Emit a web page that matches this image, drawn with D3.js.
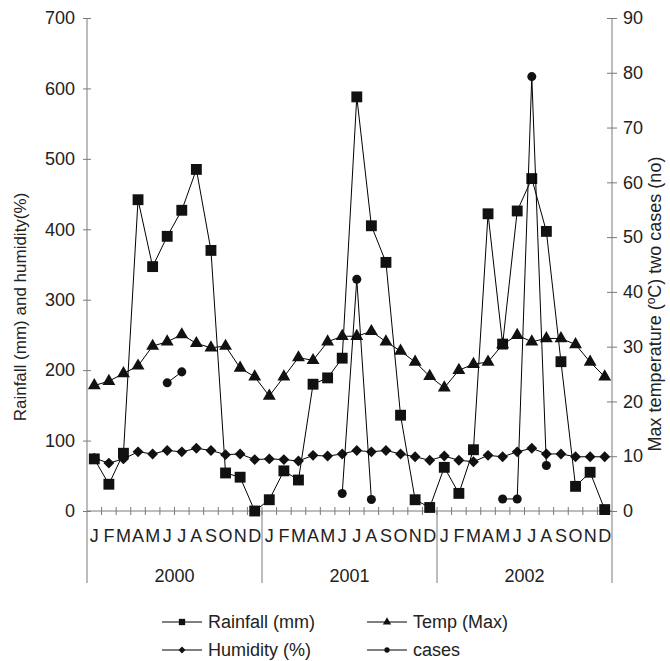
<!DOCTYPE html>
<html>
<head>
<meta charset="utf-8">
<script src="https://cdn.jsdelivr.net/npm/d3@7"></script>
<style>
    body { margin: 0; background: #fff; }
    svg { display: block; font-family: "Liberation Sans", Arial, sans-serif; }
    .axis path, .axis line { stroke: #7a7a7a; }
    .axis text { fill: #222; font-size: 18px; }
</style>
</head>
<body>
<div id="chart"></div>
<script>
// Data
const years = ['2000', '2001', '2002']
const monthLabels = ['J', 'F', 'M', 'A', 'M', 'J', 'J', 'A', 'S', 'O', 'N', 'D']
const rainfall = [
    74, 38, 82, 442, 347, 390, 427, 485, 370, 54, 48, 0,
    16, 57, 44, 180, 189, 217, 588, 405, 353, 136, 16, 5,
    62, 25, 87, 422, 237, 426, 472, 397, 212, 35, 55, 2
]
const humidity = [
    75, 68, 74, 84, 81, 86, 84, 89, 86, 80, 81, 73,
    74, 73, 71, 79, 78, 81, 86, 84, 86, 81, 77, 72,
    78, 72, 70, 79, 77, 84, 89, 81, 81, 77, 77, 77
]
const tempMax = [
    22.9, 23.7, 25.1, 26.5, 30.1, 30.9, 32.2, 30.6, 29.8, 30.1, 26.1, 24.5,
    21.0, 24.5, 28.0, 27.5, 30.9, 31.9, 31.9, 32.8, 30.9, 29.2, 27.2, 24.6,
    22.5, 25.7, 26.8, 27.2, 30.4, 32.1, 30.9, 31.5, 31.5, 30.4, 27.2, 24.5
]
const cases = [
    null, null, null, null, null, 23.4, 25.4, null, null, null, null, null,
    null, null, null, null, null, 3.2, 42.3, 2.1, null, null, null, null,
    null, null, null, null, 2.2, 2.2, 79.3, 8.3, null, null, null, null
]
const leftTicks = [0, 100, 200, 300, 400, 500, 600, 700]
const rightTicks = [0, 10, 20, 30, 40, 50, 60, 70, 80, 90]

const months = d3.range(years.length * 12)

// SVG
const width = 670
const height = 661
const margin = { top: 18, right: 58, bottom: 150, left: 87 }
const svg = d3.select('#chart').append('svg')
    .attr('width', width)
    .attr('height', height)

const chartWidth = width - margin.left - margin.right
const chartHeight = height - margin.top - margin.bottom
const g = svg.append('g').attr('transform', `translate(${margin.left},${margin.top})`)

// Scales
const x = d3.scaleBand().domain(months).range([0, chartWidth]).padding(0)
const yLeft = d3.scaleLinear().domain([0, 700]).range([chartHeight, 0])
const yRight = d3.scaleLinear().domain([0, 90]).range([chartHeight, 0])
const cx = i => x(i) + x.bandwidth() / 2

// Axes
const leftAxis = g.append('g').attr('class', 'axis')
    .call(d3.axisLeft(yLeft).tickValues(leftTicks).tickSize(4).tickPadding(8))
leftAxis.select('.domain').attr('d', `M0,0V${chartHeight + 72}`)
leftAxis.selectAll('.tick line').attr('x1', 4)

const rightAxis = g.append('g').attr('class', 'axis')
    .attr('transform', `translate(${chartWidth},0)`)
    .call(d3.axisRight(yRight).tickValues(rightTicks).tickSize(5).tickPadding(6))
rightAxis.select('.domain').attr('d', `M0,0V${chartHeight + 72}`)
rightAxis.selectAll('.tick line').attr('x1', -5)

const bottom = g.append('g').attr('class', 'axis').attr('transform', `translate(0,${chartHeight})`)
bottom.append('line').attr('x1', 0).attr('x2', chartWidth).attr('stroke', '#7a7a7a')
bottom.selectAll('line.mtick')
    .data(months.slice(1))
    .join('line')
    .attr('class', 'mtick')
    .attr('x1', d => x(d)).attr('x2', d => x(d))
    .attr('y1', -4).attr('y2', 4)
bottom.selectAll('line.ysep')
    .data([12, 24])
    .join('line')
    .attr('class', 'ysep')
    .attr('x1', d => x(d)).attr('x2', d => x(d))
    .attr('y1', 0).attr('y2', 72)
bottom.selectAll('text.month')
    .data(months)
    .join('text')
    .attr('class', 'month')
    .attr('x', cx)
    .attr('y', 31)
    .attr('text-anchor', 'middle')
    .text(d => monthLabels[d % 12])
bottom.selectAll('text.year')
    .data(years)
    .join('text')
    .attr('class', 'year')
    .attr('x', (d, i) => (x(i * 12) + x(i * 12 + 11) + x.bandwidth()) / 2)
    .attr('y', 71)
    .attr('text-anchor', 'middle')
    .text(d => d)

// Axis titles
svg.append('text')
    .attr('transform', 'translate(26,307) rotate(-90)')
    .attr('text-anchor', 'middle')
    .attr('font-size', 17)
    .attr('fill', '#222')
    .text('Rainfall (mm) and humidity(%)')

const rt = svg.append('text')
    .attr('transform', 'translate(661,304) rotate(-90)')
    .attr('text-anchor', 'middle')
    .attr('font-size', 18)
    .attr('fill', '#222')
rt.append('tspan').text('Max temperature (')
rt.append('tspan').attr('font-size', 12).attr('baseline-shift', '6').text('o')
rt.append('tspan').text('C) two cases (no)')

// Markers
const sym = {
    square: d3.symbol().type(d3.symbolSquare),
    triangle: d3.symbol().type(d3.symbolTriangle),
    diamond: d3.symbol().type(d3.symbolDiamond2),
    circle: d3.symbol().type(d3.symbolCircle)
}

const series = [
    { name: 'Rainfall (mm)', values: rainfall, y: yLeft, shape: 'square', size: 118, legendSize: 40 },
    { name: 'Humidity (%)', values: humidity, y: yLeft, shape: 'diamond', size: 76, legendSize: 30 },
    { name: 'Temp (Max)', values: tempMax, y: yRight, shape: 'triangle', size: 72, legendSize: 30 },
    { name: 'cases', values: cases, y: yRight, shape: 'circle', size: 64, legendSize: 22 }
]

series.forEach(s => {
    const pts = s.values.map((v, i) => ({ i, v }))
    const line = d3.line()
        .defined(d => d.v !== null)
        .x(d => cx(d.i))
        .y(d => s.y(d.v))
    g.append('path')
        .datum(pts)
        .attr('fill', 'none')
        .attr('stroke', '#000')
        .attr('stroke-width', 1)
        .attr('d', line)
    g.append('g').selectAll('path')
        .data(pts.filter(d => d.v !== null))
        .join('path')
        .attr('transform', d => `translate(${cx(d.i)},${s.y(d.v)})`)
        .attr('d', sym[s.shape].size(s.size)())
        .attr('fill', '#111')
})

// Legend
const legendItems = [
    { s: series[0], x: 162, y: 622 },
    { s: series[2], x: 367, y: 622 },
    { s: series[1], x: 162, y: 650 },
    { s: series[3], x: 367, y: 650 }
]
const legend = svg.append('g')
legendItems.forEach(({ s, x: lx, y: ly }) => {
    legend.append('line')
        .attr('x1', lx).attr('x2', lx + 40)
        .attr('y1', ly).attr('y2', ly)
        .attr('stroke', '#000')
    legend.append('path')
        .attr('transform', `translate(${lx + 20},${ly})`)
        .attr('d', sym[s.shape].size(s.legendSize)())
        .attr('fill', '#111')
    legend.append('text')
        .attr('x', lx + 46)
        .attr('y', ly)
        .attr('dy', '0.35em')
        .attr('font-size', 18)
        .attr('fill', '#222')
        .text(s.name)
})
</script>
</body>
</html>
